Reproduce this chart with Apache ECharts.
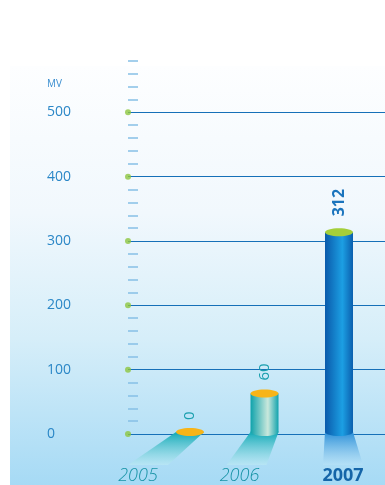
<!DOCTYPE html>
<html>
<head>
<meta charset="utf-8">
<script src="https://cdn.jsdelivr.net/npm/echarts@6/dist/echarts.min.js"></script>
<style>
  html, body { margin: 0; padding: 0; background: #ffffff; }
  #chart { width: 385px; height: 485px; }
</style>
</head>
<body>
<div id="chart"></div>
<script>
// ---- data ----
const categories = ['2005', '2006', '2007'];
const values = [0, 60, 312];
const yTickValues = [0, 100, 200, 300, 400, 500];
const unitLabel = 'MV';

// ---- styles (per category) ----
const barStyles = [
  { body: ['#0fa2ab', '#c9e8dc', '#12a3ad'], top: '#f7b418', shadow: ['#12aab6', 'rgba(190,234,244,0.6)'], label: '#1a9fae', labelWeight: 'normal', labelSize: 15, gap: 12, shift: -42 },
  { body: ['#0fa2ab', '#c9e8dc', '#12a3ad'], top: '#f7b418', shadow: ['#12aab6', 'rgba(190,234,244,0.6)'], label: '#1a9fae', labelWeight: 'normal', labelSize: 15, gap: 13, shift: -18 },
  { body: ['#0a5aab', '#1c9fe3', '#0b5fae'], top: '#a4cf3a', shadow: ['#2a8fd8', 'rgba(185,226,247,0.6)'], label: '#1a74bd', labelWeight: 'bold', labelSize: 16, gap: 16, shift: 4 }
];

const chart = echarts.init(document.getElementById('chart'), null, { renderer: 'canvas' });

function renderBar(params, api) {
  const i = params.dataIndex;
  const st = barStyles[i];
  const v = api.value(1);
  const top = api.coord([api.value(0), v]);
  const base = api.coord([api.value(0), 0]);
  const cx = top[0];
  const hw = 14, ry = 4;
  const s = st.shift;
  const children = [];
  children.push({
    type: 'polygon',
    shape: { points: [[cx - hw, base[1]], [cx + hw, base[1]], [cx + s + 20, base[1] + 33], [cx + s - 20, base[1] + 33]] },
    style: {
      fill: new echarts.graphic.LinearGradient(0, 0, 0, 1, [
        { offset: 0, color: st.shadow[0] },
        { offset: 1, color: st.shadow[1] }
      ])
    }
  });
  const bodyGrad = new echarts.graphic.LinearGradient(0, 0, 1, 0, [
    { offset: 0, color: st.body[0] },
    { offset: 0.62, color: st.body[1] },
    { offset: 1, color: st.body[2] }
  ]);
  if (v > 0) {
    children.push({
      type: 'ellipse',
      shape: { cx: cx, cy: base[1], rx: hw, ry: ry },
      style: { fill: bodyGrad }
    });
    children.push({
      type: 'rect',
      shape: { x: cx - hw, y: top[1], width: hw * 2, height: base[1] - top[1] },
      style: { fill: bodyGrad }
    });
  }
  children.push({
    type: 'ellipse',
    shape: { cx: cx, cy: top[1], rx: hw, ry: ry },
    style: { fill: st.top }
  });
  children.push({
    type: 'text',
    x: cx,
    y: top[1] - st.gap,
    rotation: Math.PI / 2,
    style: {
      text: String(v),
      x: 0, y: 0,
      align: 'left',
      verticalAlign: 'middle',
      fill: st.label,
      fontSize: st.labelSize,
      fontWeight: st.labelWeight,
      fontFamily: 'Open Sans, sans-serif'
    }
  });
  return { type: 'group', children: children };
}

const option = {
  animation: false,
  graphic: [
    {
      type: 'rect', left: 10, top: 66, z: -10,
      shape: { width: 375, height: 419 },
      style: {
        fill: new echarts.graphic.LinearGradient(0, 0, 0, 1, [
          { offset: 0, color: '#fdfeff' },
          { offset: 0.35, color: '#f1f8fd' },
          { offset: 0.65, color: '#d6eef9' },
          { offset: 1, color: '#a6daf5' }
        ])
      }
    },
    {
      type: 'text', left: 47, top: 79,
      style: { text: unitLabel, fill: '#3a8ed0', fontSize: 10, fontFamily: 'Open Sans, sans-serif' }
    }
  ],
  grid: [
    { left: 128, right: 0, top: 48, bottom: 51 },
    { left: 152.75, right: 8.75, top: 48, bottom: 51 }
  ],
  xAxis: [
    { gridIndex: 0, type: 'value', min: 0, max: 1, show: false },
    {
      gridIndex: 1, type: 'category', data: categories,
      axisLine: { show: false }, axisTick: { show: false },
      axisLabel: {
        margin: 35,
        formatter: function (val, idx) { return '{s' + idx + '|' + val + '}'; },
        rich: {
          s0: { fontStyle: 'italic', fontWeight: 300, color: '#1893a6', fontSize: 18, fontFamily: 'Open Sans, sans-serif', padding: [0, 104, 0, 0] },
          s1: { fontStyle: 'italic', fontWeight: 300, color: '#1893a6', fontSize: 18, fontFamily: 'Open Sans, sans-serif', padding: [0, 50, 0, 0] },
          s2: { fontWeight: 'bold', color: '#1565a8', fontSize: 18, fontFamily: 'Open Sans, sans-serif', padding: [0, 0, 0, 8] }
        }
      }
    }
  ],
  yAxis: [
    {
      gridIndex: 0, type: 'value', min: 0, max: 600, interval: 100,
      axisLine: { show: false },
      axisTick: { show: false, inside: true },
      minorTick: { show: true, splitNumber: 5, length: 10, lineStyle: { color: '#86c0e6', width: 1.5 } },
      splitLine: { show: true, showMaxLine: false, lineStyle: { color: '#1670b8', width: 1 } },
      axisLabel: { showMaxLabel: false, align: 'left', margin: 81, color: '#2b87c7', fontSize: 14, fontFamily: 'Open Sans, sans-serif' }
    },
    { gridIndex: 1, type: 'value', min: 0, max: 600, show: false }
  ],
  series: [
    {
      type: 'scatter', xAxisIndex: 0, yAxisIndex: 0,
      symbolSize: 6, itemStyle: { color: '#8dc63f' },
      data: yTickValues.map(function (v) { return [0, v]; }),
      z: 3
    },
    {
      type: 'custom', xAxisIndex: 1, yAxisIndex: 1,
      renderItem: renderBar,
      data: values.map(function (v, i) { return [i, v]; }),
      z: 5
    }
  ]
};
chart.setOption(option);
</script>
</body>
</html>
